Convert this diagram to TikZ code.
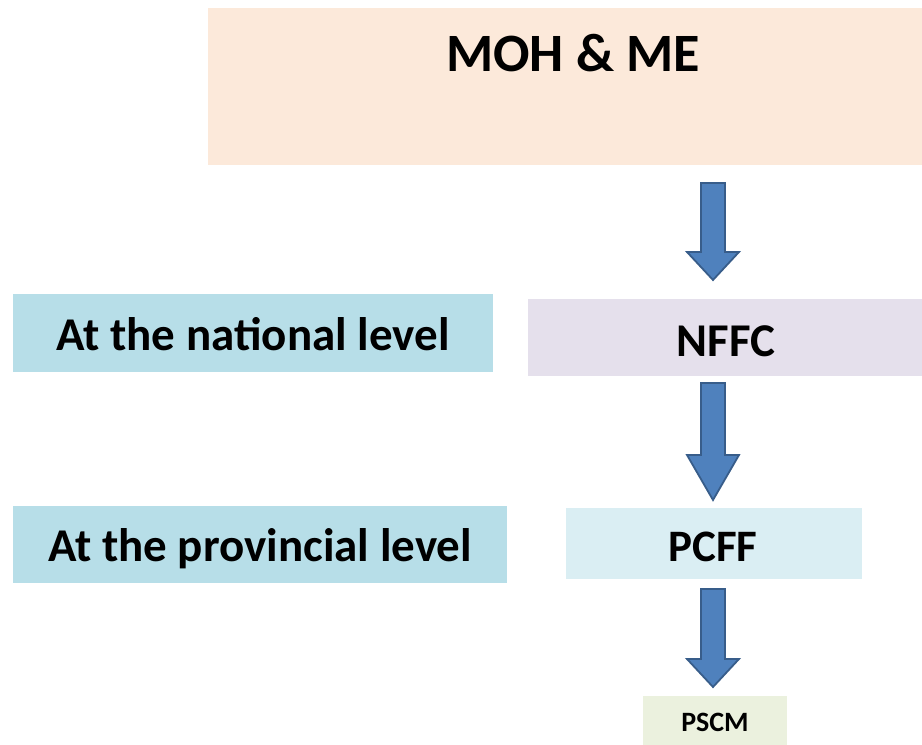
\documentclass[tikz,border=0pt]{standalone}
\usepackage{fontspec}
\setmainfont{Carlito}
\definecolor{peach}{RGB}{252,233,218}
\definecolor{lblue}{RGB}{183,222,232}
\definecolor{lilac}{RGB}{229,224,236}
\definecolor{pale}{RGB}{218,238,243}
\definecolor{lgreen}{RGB}{235,241,222}
\definecolor{arrfill}{RGB}{79,129,189}
\definecolor{arrdraw}{RGB}{56,93,138}
\tikzset{
  box/.style={rectangle, inner sep=0pt, draw=none},
  lbl/.style={anchor=base, inner sep=0pt, font=\bfseries},
  barrow/.style={fill=arrfill, draw=arrdraw, line width=1.8pt, line join=miter}
}
\newcommand{\blockarr}[4]{% x, top, headstart, tip
  \draw[barrow] (#1-12,#2) -- (#1+12,#2) -- (#1+12,#3) -- (#1+26,#3) -- (#1,#4)
    -- (#1-26,#3) -- (#1-12,#3) -- cycle;}
\begin{document}
\begin{tikzpicture}[x=1pt,y=-1pt]
\useasboundingbox (0,0) rectangle (922,745);
% boxes
\fill[peach] (208,8) rectangle (922,165);
\node[box, minimum width=714pt, minimum height=157pt] (moh) at (565,86.5) {};
\fill[lblue] (13,294) rectangle (493,372);
\node[box, minimum width=480pt, minimum height=78pt] (nat) at (253,333) {};
\fill[lilac] (528,299) rectangle (922,376);
\node[box, minimum width=394pt, minimum height=77pt] (nffc) at (725,337.5) {};
\fill[lblue] (13,506) rectangle (507,583);
\node[box, minimum width=494pt, minimum height=77pt] (prov) at (260,544.5) {};
\fill[pale] (566,508) rectangle (862,579);
\node[box, minimum width=296pt, minimum height=71pt] (pcff) at (714,543.5) {};
\fill[lgreen] (643,696) rectangle (787,745);
\node[box, minimum width=144pt, minimum height=49pt] (pscm) at (715,720.5) {};
% texts
\node[lbl, font=\fontsize{54}{60}\selectfont\bfseries] (tmoh) at (573,71) {MOH \& ME};
\node[lbl, font=\fontsize{47}{52}\selectfont\bfseries] (tnat) at (253,350) {At the national level};
\node[lbl, font=\fontsize{47}{52}\selectfont\bfseries] (tnffc) at (726,356) {NFFC};
\node[lbl, font=\fontsize{47}{52}\selectfont\bfseries] (tprov) at (260,561) {At the provincial level};
\node[lbl, font=\fontsize{45}{50}\selectfont\bfseries] (tpcff) at (713,561) {PCFF};
\node[lbl, font=\fontsize{28}{32}\selectfont\bfseries] (tpscm) at (715,731) {PSCM};
% block arrows
\blockarr{713}{183}{252}{280}
\blockarr{713}{383}{455}{500}
\blockarr{713}{589}{659}{687}
\end{tikzpicture}
\end{document}
